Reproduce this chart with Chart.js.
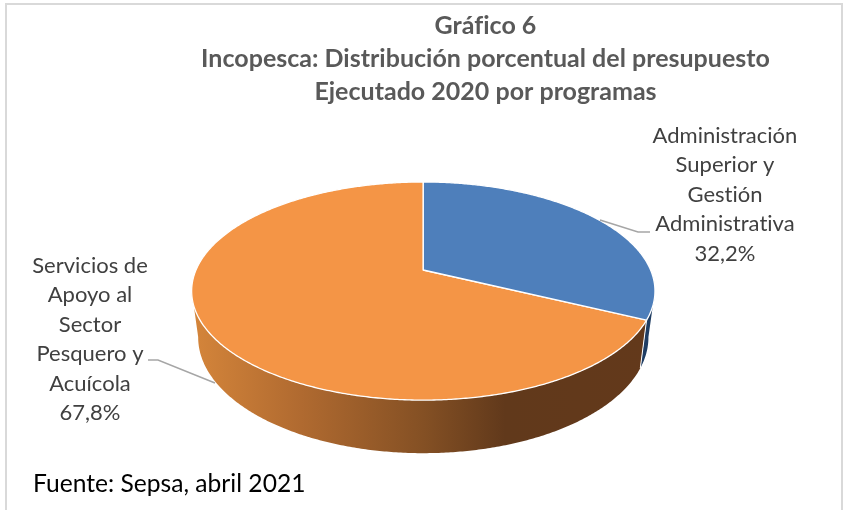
<!DOCTYPE html>
<html lang="es">
<head>
<meta charset="utf-8">
<style>html,body{margin:0;padding:0;background:#fff}canvas{display:block}</style>
<script src="https://cdn.jsdelivr.net/npm/chart.js@4"></script>
</head>
<body>
<canvas id="c" width="843" height="510"></canvas>
<script>
const categories = ["Administración Superior y Gestión Administrativa", "Servicios de Apoyo al Sector Pesquero y Acuícola"];
const values = [32.2, 67.8];
const faceColors = ["#4e7fbb", "#f49546"];
const titleLines = ["Gráfico 6", "Incopesca: Distribución porcentual del presupuesto", "Ejecutado 2020 por programas"];
const labelLinesA = ["Administración", "Superior y", "Gestión", "Administrativa", "32,2%"];
const labelLinesB = ["Servicios de", "Apoyo al", "Sector", "Pesquero y", "Acuícola", "67,8%"];
const sourceText = "Fuente: Sepsa, abril 2021";

const FONT = "Lato, 'Open Sans', sans-serif";
const CX = 423.3, CY = 270, P = 0.193;
const TOP = {cy: CY, r: 227.3, a: 105};
const LOW = {cy: 315, r: 220.9, a: 111.5};
const rad = d => d * Math.PI / 180;

function proj(t, f) {
  const u = Math.cos(t), v = Math.sin(t), w = 1 - P * v;
  return [CX + f.r * u / w, f.cy + f.a * v / w];
}
function trace(ctx, a, b, f, move) {
  const n = Math.max(2, Math.ceil(Math.abs(b - a) / rad(0.5)));
  for (let i = 0; i <= n; i++) {
    const p = proj(a + (b - a) * i / n, f);
    if (i === 0 && move) ctx.moveTo(p[0], p[1]); else ctx.lineTo(p[0], p[1]);
  }
}
function wall(ctx, a, b, fill) {
  ctx.beginPath();
  trace(ctx, a, b, TOP, true);
  trace(ctx, b, a, LOW, false);
  ctx.closePath();
  ctx.fillStyle = fill;
  ctx.fill();
}

const pie3d = {
  id: "pie3d",
  beforeDraw(chart) {
    // a tiny spacing switches off the ti / fi ligatures of the font
    chart.ctx.letterSpacing = "0.01px";
  },
  beforeDatasetDraw(chart, args) {
    const ctx = chart.ctx;
    const arcs = chart.getDatasetMeta(args.index).data;
    const edge = arcs[0].endAngle;
    const grad = ctx.createLinearGradient(197, 0, 650, 0);
    grad.addColorStop(0, "#d3843a");
    grad.addColorStop(0.23, "#b06a30");
    grad.addColorStop(0.5, "#845024");
    grad.addColorStop(0.68, "#61391b");
    grad.addColorStop(1, "#63391b");
    ctx.save();
    ctx.lineJoin = "round";
    wall(ctx, rad(11), edge, "#1f3d63");
    wall(ctx, edge, rad(169), grad);
    const p1 = proj(edge, TOP), p2 = proj(edge, LOW);
    ctx.strokeStyle = "#ffffff";
    ctx.lineWidth = 1;
    ctx.beginPath(); ctx.moveTo(p1[0], p1[1]); ctx.lineTo(p2[0], p2[1]); ctx.stroke();
    [1, 0].forEach(i => {
      const arc = arcs[i];
      ctx.beginPath();
      ctx.moveTo(CX, CY);
      trace(ctx, arc.startAngle, arc.endAngle, TOP, false);
      ctx.closePath();
      ctx.fillStyle = faceColors[i];
      ctx.fill();
      ctx.lineWidth = 1.3;
      ctx.strokeStyle = "#ffffff";
      ctx.stroke();
    });
    ctx.restore();
    return false;
  },
  afterDraw(chart) {
    const ctx = chart.ctx;
    ctx.save();
    ctx.fillStyle = "#d9d9d9";
    ctx.fillRect(5, 3, 838, 2);
    ctx.fillRect(5, 3, 2, 507);
    ctx.fillRect(841, 3, 2, 507);

    ctx.strokeStyle = "#a6a6a6";
    ctx.lineWidth = 1.5;
    ctx.beginPath(); ctx.moveTo(600, 220); ctx.lineTo(638, 232); ctx.lineTo(650, 232); ctx.stroke();
    ctx.beginPath(); ctx.moveTo(148, 360); ctx.lineTo(158, 360); ctx.lineTo(215, 383); ctx.stroke();

    ctx.fillStyle = "#404040";
    ctx.font = "22px " + FONT;
    ctx.textAlign = "center";
    ctx.textBaseline = "middle";
    labelLinesA.forEach((s, i) => ctx.fillText(s, 725, 136 + i * 29.4));
    labelLinesB.forEach((s, i) => ctx.fillText(s, 90, 266 + i * 29.4));

    ctx.fillStyle = "#000000";
    ctx.font = "24.6px " + FONT;
    ctx.textAlign = "left";
    ctx.fillText(sourceText, 33, 484);
    ctx.restore();
  }
};

new Chart(document.getElementById("c"), {
  type: "pie",
  data: { labels: categories, datasets: [{ data: values, backgroundColor: faceColors, borderWidth: 0 }] },
  plugins: [pie3d],
  options: {
    responsive: false,
    animation: false,
    layout: { padding: { left: 128, right: 0, top: 0, bottom: 75 } },
    plugins: {
      legend: { display: false },
      tooltip: { enabled: false },
      title: {
        display: true,
        fullSize: false,
        text: titleLines,
        color: "#595959",
        font: { family: FONT, size: 25, weight: "bold", lineHeight: 1.31 },
        padding: { top: 10, bottom: 6 }
      }
    }
  }
});
</script>
</body>
</html>
